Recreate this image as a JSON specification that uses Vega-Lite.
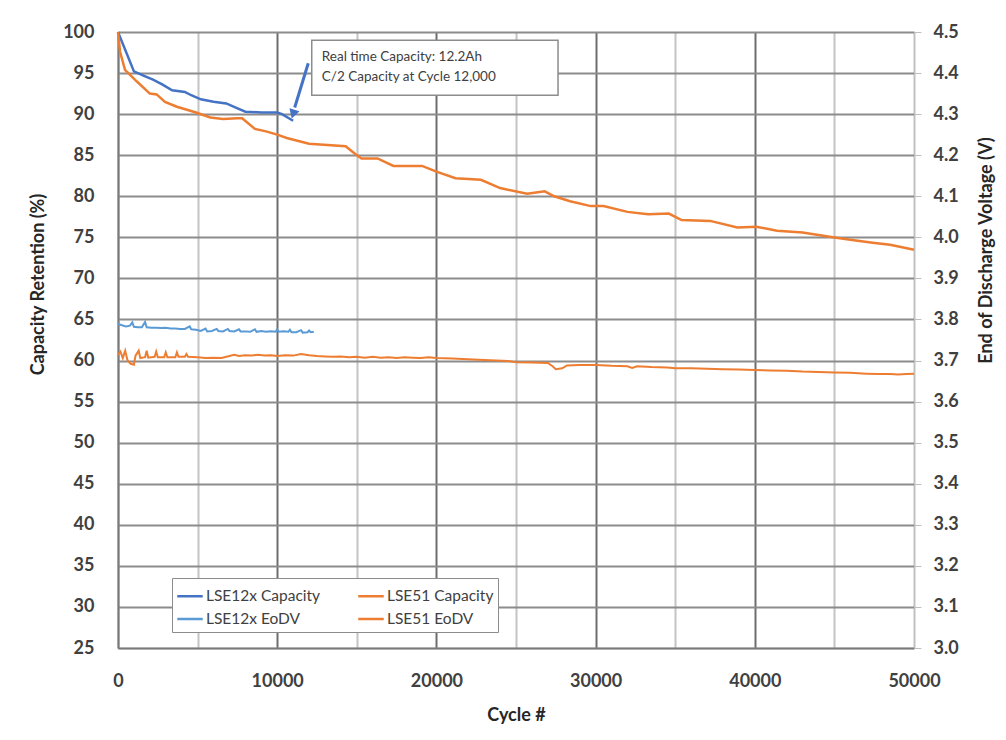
{
  "$schema": "https://vega.github.io/schema/vega-lite/v6.json",
  "width": 796,
  "height": 616,
  "autosize": {"type": "none"},
  "padding": {"left": 118, "top": 32, "right": 92, "bottom": 92},
  "background": "white",
  "config": {
    "view": {"stroke": null},
    "font": "Lato",
    "axis": {"labelFont": "Lato", "titleFont": "Lato", "labelColor": "#404040", "titleColor": "#262626", "labelFontWeight": "bold", "titleFontWeight": "bold"}
  },
  "datasets": {
    "cap": [
      {"cycle": 0, "value": 100, "series": "LSE12x Capacity"},
      {"cycle": 1000, "value": 95.2, "series": "LSE12x Capacity"},
      {"cycle": 1600, "value": 94.7, "series": "LSE12x Capacity"},
      {"cycle": 2200, "value": 94.2, "series": "LSE12x Capacity"},
      {"cycle": 2800, "value": 93.6, "series": "LSE12x Capacity"},
      {"cycle": 3400, "value": 92.9, "series": "LSE12x Capacity"},
      {"cycle": 4200, "value": 92.7, "series": "LSE12x Capacity"},
      {"cycle": 4600, "value": 92.3, "series": "LSE12x Capacity"},
      {"cycle": 5200, "value": 91.8, "series": "LSE12x Capacity"},
      {"cycle": 6000, "value": 91.5, "series": "LSE12x Capacity"},
      {"cycle": 6800, "value": 91.3, "series": "LSE12x Capacity"},
      {"cycle": 7400, "value": 90.8, "series": "LSE12x Capacity"},
      {"cycle": 8000, "value": 90.3, "series": "LSE12x Capacity"},
      {"cycle": 9000, "value": 90.2, "series": "LSE12x Capacity"},
      {"cycle": 10000, "value": 90.2, "series": "LSE12x Capacity"},
      {"cycle": 10300, "value": 90.0, "series": "LSE12x Capacity"},
      {"cycle": 11000, "value": 89.2, "series": "LSE12x Capacity"},
      {"cycle": 0, "value": 100, "series": "LSE51 Capacity"},
      {"cycle": 130, "value": 97.6, "series": "LSE51 Capacity"},
      {"cycle": 440, "value": 95.4, "series": "LSE51 Capacity"},
      {"cycle": 1170, "value": 94.0, "series": "LSE51 Capacity"},
      {"cycle": 2000, "value": 92.5, "series": "LSE51 Capacity"},
      {"cycle": 2430, "value": 92.4, "series": "LSE51 Capacity"},
      {"cycle": 2950, "value": 91.5, "series": "LSE51 Capacity"},
      {"cycle": 3700, "value": 90.9, "series": "LSE51 Capacity"},
      {"cycle": 4900, "value": 90.2, "series": "LSE51 Capacity"},
      {"cycle": 5800, "value": 89.6, "series": "LSE51 Capacity"},
      {"cycle": 6600, "value": 89.4, "series": "LSE51 Capacity"},
      {"cycle": 7500, "value": 89.5, "series": "LSE51 Capacity"},
      {"cycle": 7800, "value": 89.5, "series": "LSE51 Capacity"},
      {"cycle": 8600, "value": 88.2, "series": "LSE51 Capacity"},
      {"cycle": 9300, "value": 87.9, "series": "LSE51 Capacity"},
      {"cycle": 10000, "value": 87.5, "series": "LSE51 Capacity"},
      {"cycle": 10600, "value": 87.1, "series": "LSE51 Capacity"},
      {"cycle": 12000, "value": 86.4, "series": "LSE51 Capacity"},
      {"cycle": 14300, "value": 86.1, "series": "LSE51 Capacity"},
      {"cycle": 15000, "value": 85.0, "series": "LSE51 Capacity"},
      {"cycle": 15300, "value": 84.6, "series": "LSE51 Capacity"},
      {"cycle": 16300, "value": 84.6, "series": "LSE51 Capacity"},
      {"cycle": 17300, "value": 83.7, "series": "LSE51 Capacity"},
      {"cycle": 19100, "value": 83.7, "series": "LSE51 Capacity"},
      {"cycle": 20000, "value": 83.0, "series": "LSE51 Capacity"},
      {"cycle": 21200, "value": 82.2, "series": "LSE51 Capacity"},
      {"cycle": 22800, "value": 82.0, "series": "LSE51 Capacity"},
      {"cycle": 24000, "value": 81.0, "series": "LSE51 Capacity"},
      {"cycle": 25700, "value": 80.3, "series": "LSE51 Capacity"},
      {"cycle": 26800, "value": 80.6, "series": "LSE51 Capacity"},
      {"cycle": 27400, "value": 80.0, "series": "LSE51 Capacity"},
      {"cycle": 28400, "value": 79.4, "series": "LSE51 Capacity"},
      {"cycle": 29700, "value": 78.8, "series": "LSE51 Capacity"},
      {"cycle": 30500, "value": 78.8, "series": "LSE51 Capacity"},
      {"cycle": 32000, "value": 78.1, "series": "LSE51 Capacity"},
      {"cycle": 33300, "value": 77.8, "series": "LSE51 Capacity"},
      {"cycle": 34600, "value": 77.9, "series": "LSE51 Capacity"},
      {"cycle": 35400, "value": 77.1, "series": "LSE51 Capacity"},
      {"cycle": 37200, "value": 77.0, "series": "LSE51 Capacity"},
      {"cycle": 38900, "value": 76.2, "series": "LSE51 Capacity"},
      {"cycle": 40100, "value": 76.3, "series": "LSE51 Capacity"},
      {"cycle": 41400, "value": 75.8, "series": "LSE51 Capacity"},
      {"cycle": 43000, "value": 75.6, "series": "LSE51 Capacity"},
      {"cycle": 44900, "value": 75.0, "series": "LSE51 Capacity"},
      {"cycle": 46000, "value": 74.7, "series": "LSE51 Capacity"},
      {"cycle": 47400, "value": 74.35, "series": "LSE51 Capacity"},
      {"cycle": 48500, "value": 74.1, "series": "LSE51 Capacity"},
      {"cycle": 50000, "value": 73.5, "series": "LSE51 Capacity"}
    ],
    "eodv": [
      {"cycle": 0, "volt": 3.789, "series": "LSE12x EoDV"},
      {"cycle": 250, "volt": 3.786, "series": "LSE12x EoDV"},
      {"cycle": 500, "volt": 3.783, "series": "LSE12x EoDV"},
      {"cycle": 750, "volt": 3.785, "series": "LSE12x EoDV"},
      {"cycle": 900, "volt": 3.793, "series": "LSE12x EoDV"},
      {"cycle": 1000, "volt": 3.782, "series": "LSE12x EoDV"},
      {"cycle": 1250, "volt": 3.781, "series": "LSE12x EoDV"},
      {"cycle": 1500, "volt": 3.781, "series": "LSE12x EoDV"},
      {"cycle": 1700, "volt": 3.794, "series": "LSE12x EoDV"},
      {"cycle": 1800, "volt": 3.781, "series": "LSE12x EoDV"},
      {"cycle": 2100, "volt": 3.780, "series": "LSE12x EoDV"},
      {"cycle": 2400, "volt": 3.780, "series": "LSE12x EoDV"},
      {"cycle": 2700, "volt": 3.779, "series": "LSE12x EoDV"},
      {"cycle": 3000, "volt": 3.780, "series": "LSE12x EoDV"},
      {"cycle": 3300, "volt": 3.778, "series": "LSE12x EoDV"},
      {"cycle": 3600, "volt": 3.778, "series": "LSE12x EoDV"},
      {"cycle": 3900, "volt": 3.777, "series": "LSE12x EoDV"},
      {"cycle": 4200, "volt": 3.777, "series": "LSE12x EoDV"},
      {"cycle": 4500, "volt": 3.783, "series": "LSE12x EoDV"},
      {"cycle": 4600, "volt": 3.776, "series": "LSE12x EoDV"},
      {"cycle": 4900, "volt": 3.775, "series": "LSE12x EoDV"},
      {"cycle": 5200, "volt": 3.772, "series": "LSE12x EoDV"},
      {"cycle": 5500, "volt": 3.778, "series": "LSE12x EoDV"},
      {"cycle": 5600, "volt": 3.771, "series": "LSE12x EoDV"},
      {"cycle": 5900, "volt": 3.772, "series": "LSE12x EoDV"},
      {"cycle": 6200, "volt": 3.777, "series": "LSE12x EoDV"},
      {"cycle": 6300, "volt": 3.772, "series": "LSE12x EoDV"},
      {"cycle": 6600, "volt": 3.771, "series": "LSE12x EoDV"},
      {"cycle": 6900, "volt": 3.777, "series": "LSE12x EoDV"},
      {"cycle": 7000, "volt": 3.772, "series": "LSE12x EoDV"},
      {"cycle": 7300, "volt": 3.771, "series": "LSE12x EoDV"},
      {"cycle": 7600, "volt": 3.776, "series": "LSE12x EoDV"},
      {"cycle": 7700, "volt": 3.771, "series": "LSE12x EoDV"},
      {"cycle": 8000, "volt": 3.771, "series": "LSE12x EoDV"},
      {"cycle": 8300, "volt": 3.770, "series": "LSE12x EoDV"},
      {"cycle": 8600, "volt": 3.776, "series": "LSE12x EoDV"},
      {"cycle": 8700, "volt": 3.770, "series": "LSE12x EoDV"},
      {"cycle": 9000, "volt": 3.772, "series": "LSE12x EoDV"},
      {"cycle": 9300, "volt": 3.770, "series": "LSE12x EoDV"},
      {"cycle": 9600, "volt": 3.771, "series": "LSE12x EoDV"},
      {"cycle": 9900, "volt": 3.770, "series": "LSE12x EoDV"},
      {"cycle": 10000, "volt": 3.776, "series": "LSE12x EoDV"},
      {"cycle": 10100, "volt": 3.770, "series": "LSE12x EoDV"},
      {"cycle": 10400, "volt": 3.771, "series": "LSE12x EoDV"},
      {"cycle": 10700, "volt": 3.770, "series": "LSE12x EoDV"},
      {"cycle": 10800, "volt": 3.775, "series": "LSE12x EoDV"},
      {"cycle": 10900, "volt": 3.769, "series": "LSE12x EoDV"},
      {"cycle": 11200, "volt": 3.769, "series": "LSE12x EoDV"},
      {"cycle": 11500, "volt": 3.774, "series": "LSE12x EoDV"},
      {"cycle": 11600, "volt": 3.768, "series": "LSE12x EoDV"},
      {"cycle": 11900, "volt": 3.769, "series": "LSE12x EoDV"},
      {"cycle": 12000, "volt": 3.773, "series": "LSE12x EoDV"},
      {"cycle": 12100, "volt": 3.769, "series": "LSE12x EoDV"},
      {"cycle": 12300, "volt": 3.770, "series": "LSE12x EoDV"},
      {"cycle": 0, "volt": 3.714, "series": "LSE51 EoDV"},
      {"cycle": 150, "volt": 3.722, "series": "LSE51 EoDV"},
      {"cycle": 300, "volt": 3.706, "series": "LSE51 EoDV"},
      {"cycle": 450, "volt": 3.724, "series": "LSE51 EoDV"},
      {"cycle": 600, "volt": 3.700, "series": "LSE51 EoDV"},
      {"cycle": 800, "volt": 3.692, "series": "LSE51 EoDV"},
      {"cycle": 1000, "volt": 3.690, "series": "LSE51 EoDV"},
      {"cycle": 1100, "volt": 3.712, "series": "LSE51 EoDV"},
      {"cycle": 1300, "volt": 3.724, "series": "LSE51 EoDV"},
      {"cycle": 1400, "volt": 3.706, "series": "LSE51 EoDV"},
      {"cycle": 1700, "volt": 3.708, "series": "LSE51 EoDV"},
      {"cycle": 1800, "volt": 3.724, "series": "LSE51 EoDV"},
      {"cycle": 1900, "volt": 3.707, "series": "LSE51 EoDV"},
      {"cycle": 2300, "volt": 3.709, "series": "LSE51 EoDV"},
      {"cycle": 2400, "volt": 3.722, "series": "LSE51 EoDV"},
      {"cycle": 2500, "volt": 3.708, "series": "LSE51 EoDV"},
      {"cycle": 2900, "volt": 3.708, "series": "LSE51 EoDV"},
      {"cycle": 3000, "volt": 3.720, "series": "LSE51 EoDV"},
      {"cycle": 3100, "volt": 3.708, "series": "LSE51 EoDV"},
      {"cycle": 3600, "volt": 3.708, "series": "LSE51 EoDV"},
      {"cycle": 3700, "volt": 3.720, "series": "LSE51 EoDV"},
      {"cycle": 3800, "volt": 3.709, "series": "LSE51 EoDV"},
      {"cycle": 4200, "volt": 3.709, "series": "LSE51 EoDV"},
      {"cycle": 4300, "volt": 3.716, "series": "LSE51 EoDV"},
      {"cycle": 4400, "volt": 3.709, "series": "LSE51 EoDV"},
      {"cycle": 5000, "volt": 3.708, "series": "LSE51 EoDV"},
      {"cycle": 5500, "volt": 3.706, "series": "LSE51 EoDV"},
      {"cycle": 6000, "volt": 3.707, "series": "LSE51 EoDV"},
      {"cycle": 6500, "volt": 3.706, "series": "LSE51 EoDV"},
      {"cycle": 7000, "volt": 3.711, "series": "LSE51 EoDV"},
      {"cycle": 7300, "volt": 3.714, "series": "LSE51 EoDV"},
      {"cycle": 7600, "volt": 3.711, "series": "LSE51 EoDV"},
      {"cycle": 8000, "volt": 3.713, "series": "LSE51 EoDV"},
      {"cycle": 8400, "volt": 3.712, "series": "LSE51 EoDV"},
      {"cycle": 8800, "volt": 3.714, "series": "LSE51 EoDV"},
      {"cycle": 9200, "volt": 3.712, "series": "LSE51 EoDV"},
      {"cycle": 9600, "volt": 3.713, "series": "LSE51 EoDV"},
      {"cycle": 10000, "volt": 3.711, "series": "LSE51 EoDV"},
      {"cycle": 10500, "volt": 3.713, "series": "LSE51 EoDV"},
      {"cycle": 11000, "volt": 3.712, "series": "LSE51 EoDV"},
      {"cycle": 11500, "volt": 3.716, "series": "LSE51 EoDV"},
      {"cycle": 12000, "volt": 3.713, "series": "LSE51 EoDV"},
      {"cycle": 12500, "volt": 3.711, "series": "LSE51 EoDV"},
      {"cycle": 13000, "volt": 3.710, "series": "LSE51 EoDV"},
      {"cycle": 13500, "volt": 3.709, "series": "LSE51 EoDV"},
      {"cycle": 14000, "volt": 3.710, "series": "LSE51 EoDV"},
      {"cycle": 14500, "volt": 3.708, "series": "LSE51 EoDV"},
      {"cycle": 15000, "volt": 3.709, "series": "LSE51 EoDV"},
      {"cycle": 15500, "volt": 3.707, "series": "LSE51 EoDV"},
      {"cycle": 16000, "volt": 3.709, "series": "LSE51 EoDV"},
      {"cycle": 16500, "volt": 3.707, "series": "LSE51 EoDV"},
      {"cycle": 17000, "volt": 3.708, "series": "LSE51 EoDV"},
      {"cycle": 17500, "volt": 3.706, "series": "LSE51 EoDV"},
      {"cycle": 18000, "volt": 3.708, "series": "LSE51 EoDV"},
      {"cycle": 18500, "volt": 3.707, "series": "LSE51 EoDV"},
      {"cycle": 19000, "volt": 3.706, "series": "LSE51 EoDV"},
      {"cycle": 19500, "volt": 3.708, "series": "LSE51 EoDV"},
      {"cycle": 20000, "volt": 3.706, "series": "LSE51 EoDV"},
      {"cycle": 21000, "volt": 3.705, "series": "LSE51 EoDV"},
      {"cycle": 22000, "volt": 3.703, "series": "LSE51 EoDV"},
      {"cycle": 23000, "volt": 3.701, "series": "LSE51 EoDV"},
      {"cycle": 24500, "volt": 3.699, "series": "LSE51 EoDV"},
      {"cycle": 25000, "volt": 3.696, "series": "LSE51 EoDV"},
      {"cycle": 26000, "volt": 3.695, "series": "LSE51 EoDV"},
      {"cycle": 27000, "volt": 3.694, "series": "LSE51 EoDV"},
      {"cycle": 27300, "volt": 3.686, "series": "LSE51 EoDV"},
      {"cycle": 27500, "volt": 3.679, "series": "LSE51 EoDV"},
      {"cycle": 27900, "volt": 3.681, "series": "LSE51 EoDV"},
      {"cycle": 28200, "volt": 3.688, "series": "LSE51 EoDV"},
      {"cycle": 29000, "volt": 3.689, "series": "LSE51 EoDV"},
      {"cycle": 30000, "volt": 3.689, "series": "LSE51 EoDV"},
      {"cycle": 31000, "volt": 3.687, "series": "LSE51 EoDV"},
      {"cycle": 32000, "volt": 3.686, "series": "LSE51 EoDV"},
      {"cycle": 32300, "volt": 3.682, "series": "LSE51 EoDV"},
      {"cycle": 32600, "volt": 3.686, "series": "LSE51 EoDV"},
      {"cycle": 33500, "volt": 3.684, "series": "LSE51 EoDV"},
      {"cycle": 34500, "volt": 3.683, "series": "LSE51 EoDV"},
      {"cycle": 35000, "volt": 3.681, "series": "LSE51 EoDV"},
      {"cycle": 36000, "volt": 3.681, "series": "LSE51 EoDV"},
      {"cycle": 37000, "volt": 3.680, "series": "LSE51 EoDV"},
      {"cycle": 38000, "volt": 3.679, "series": "LSE51 EoDV"},
      {"cycle": 39000, "volt": 3.678, "series": "LSE51 EoDV"},
      {"cycle": 40000, "volt": 3.677, "series": "LSE51 EoDV"},
      {"cycle": 41000, "volt": 3.676, "series": "LSE51 EoDV"},
      {"cycle": 42000, "volt": 3.675, "series": "LSE51 EoDV"},
      {"cycle": 43000, "volt": 3.673, "series": "LSE51 EoDV"},
      {"cycle": 44000, "volt": 3.672, "series": "LSE51 EoDV"},
      {"cycle": 45000, "volt": 3.671, "series": "LSE51 EoDV"},
      {"cycle": 46000, "volt": 3.670, "series": "LSE51 EoDV"},
      {"cycle": 47000, "volt": 3.668, "series": "LSE51 EoDV"},
      {"cycle": 47800, "volt": 3.667, "series": "LSE51 EoDV"},
      {"cycle": 48500, "volt": 3.667, "series": "LSE51 EoDV"},
      {"cycle": 49000, "volt": 3.666, "series": "LSE51 EoDV"},
      {"cycle": 49500, "volt": 3.667, "series": "LSE51 EoDV"},
      {"cycle": 50000, "volt": 3.668, "series": "LSE51 EoDV"}
    ],
    "note": [{"x1": 12170, "x2": 27640, "y1": 99.0, "y2": 92.3}],
    "noteText": [
      {"x": 12800, "y": 97.0, "text": "Real time Capacity: 12.2Ah"},
      {"x": 12800, "y": 94.5, "text": "C/2 Capacity  at Cycle 12,000"}
    ],
    "arrow": [{"x1": 11950, "y1": 96.2, "x2": 11100, "y2": 90.8, "tx": 11000, "ty": 90.0}]
  },
  "layer": [
    {
      "layer": [
        {
          "data": {"name": "cap"},
          "mark": {"type": "line", "strokeWidth": 2.5, "interpolate": "linear"},
          "encoding": {
            "x": {"field": "cycle", "type": "quantitative"},
            "y": {"field": "value", "type": "quantitative"},
            "color": {"field": "series", "type": "nominal"},
            "detail": {"field": "series"}
          }
        },
        {
          "data": {"name": "note"},
          "mark": {"type": "rect", "fill": "white", "stroke": "#8c8c8c", "strokeWidth": 1.5},
          "encoding": {
            "x": {"field": "x1", "type": "quantitative"},
            "x2": {"field": "x2"},
            "y": {"field": "y1", "type": "quantitative"},
            "y2": {"field": "y2"}
          }
        },
        {
          "data": {"name": "noteText"},
          "mark": {"type": "text", "align": "left", "baseline": "middle", "fontSize": 13.5, "font": "Lato", "color": "#404040"},
          "encoding": {
            "x": {"field": "x", "type": "quantitative"},
            "y": {"field": "y", "type": "quantitative"},
            "text": {"field": "text"}
          }
        },
        {
          "data": {"name": "arrow"},
          "mark": {"type": "rule", "color": "#4472C4", "strokeWidth": 3},
          "encoding": {
            "x": {"field": "x1", "type": "quantitative"},
            "y": {"field": "y1", "type": "quantitative"},
            "x2": {"field": "x2"},
            "y2": {"field": "y2"}
          }
        },
        {
          "data": {"name": "arrow"},
          "mark": {"type": "point", "shape": "triangle-down", "filled": true, "color": "#4472C4", "size": 110, "angle": 17, "opacity": 1},
          "encoding": {
            "x": {"field": "tx", "type": "quantitative"},
            "y": {"field": "ty", "type": "quantitative"}
          }
        }
      ],
      "encoding": {
        "x": {
          "field": "cycle", "type": "quantitative",
          "scale": {"domain": [0, 50000], "nice": false, "zero": false},
          "axis": {
            "title": "Cycle #",
            "values": [0, 5000, 10000, 15000, 20000, 25000, 30000, 35000, 40000, 45000, 50000],
            "labelExpr": "datum.value % 10000 === 0 ? format(datum.value, 'd') : ''",
            "labelFlush": false,
            "labelOverlap": false,
            "labelFontSize": 18,
            "labelPadding": 24,
            "ticks": false,
            "domainColor": "#7a7a7a",
            "domainWidth": 1.5,
            "titleFontSize": 18,
            "titlePadding": 16,
            "grid": true,
            "gridColor": {"condition": {"test": "datum.value % 10000 === 0 && datum.value < 50000", "value": "#6e6e6e"}, "value": "#c4c4c4"},
            "gridWidth": 2
          }
        },
        "y": {
          "type": "quantitative",
          "scale": {"domain": [25, 100], "nice": false, "zero": false},
          "axis": {
            "title": "Capacity Retention (%)",
            "values": [25, 30, 35, 40, 45, 50, 55, 60, 65, 70, 75, 80, 85, 90, 95, 100],
            "labelFontSize": 18,
            "labelPadding": 24,
            "ticks": false,
            "domainColor": "#7a7a7a",
            "domainWidth": 1.5,
            "grid": true,
            "gridColor": "#8c8c8c",
            "gridWidth": 2,
            "titleFontSize": 18,
            "titleAngle": -90,
            "titleX": -80,
            "titleY": 252,
            "titleBaseline": "middle",
            "titleAlign": "center"
          }
        },
        "color": {
          "type": "nominal",
          "scale": {
            "domain": ["LSE12x Capacity", "LSE12x EoDV", "LSE51 Capacity", "LSE51 EoDV"],
            "range": ["#4472C4", "#5B9BD5", "#ED7D31", "#ED7D31"]
          },
          "legend": {
            "title": null,
            "orient": "none",
            "legendX": 54,
            "legendY": 546,
            "columns": 2,
            "columnPadding": 32,
            "rowPadding": -7.5,
            "symbolType": "stroke",
            "symbolSize": 650,
            "symbolStrokeWidth": 2.5,
            "labelFontSize": 15.5,
            "labelFont": "Lato",
            "labelColor": "#404040",
            "labelOffset": 2,
            "strokeColor": "#8c8c8c",
            "fillColor": "white",
            "padding": 4
          }
        }
      }
    },
    {
      "data": {"name": "eodv"},
      "mark": {"type": "line", "strokeWidth": 2, "interpolate": "linear"},
      "encoding": {
        "x": {"field": "cycle", "type": "quantitative"},
        "y": {
          "field": "volt", "type": "quantitative",
          "scale": {"domain": [3.0, 4.5], "nice": false, "zero": false},
          "axis": {
            "orient": "right",
            "title": "End of Discharge Voltage (V)",
            "values": [3.0, 3.1, 3.2, 3.3, 3.4, 3.5, 3.6, 3.7, 3.8, 3.9, 4.0, 4.1, 4.2, 4.3, 4.4, 4.5],
            "format": ".1f",
            "labelFontSize": 18,
            "labelPadding": 12,
            "ticks": true,
            "tickSize": 7,
            "tickColor": "#bfbfbf",
            "domainColor": "#bfbfbf",
            "grid": false,
            "titleFontSize": 18,
            "titleAngle": -90,
            "titleX": 72,
            "titleY": 218,
            "titleBaseline": "middle",
            "titleAlign": "center"
          }
        },
        "color": {"field": "series", "type": "nominal"},
        "detail": {"field": "series"}
      }
    }
  ],
  "resolve": {"scale": {"y": "independent"}}
}
